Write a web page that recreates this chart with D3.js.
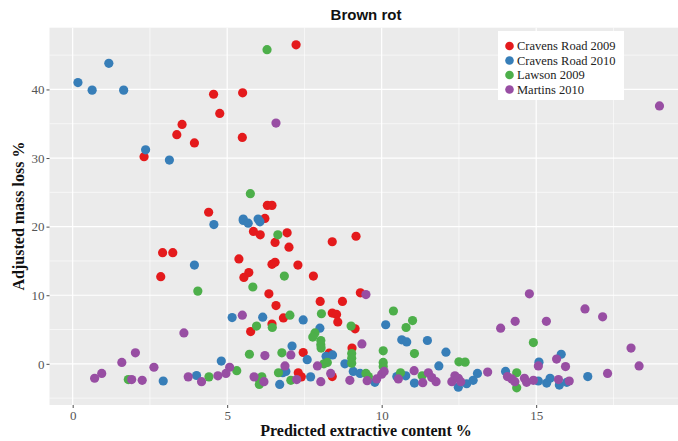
<!DOCTYPE html>
<html><head><meta charset="utf-8">
<script src="https://cdn.jsdelivr.net/npm/d3@7"></script>
<style>body{margin:0;background:#fff}svg{display:block}</style>
</head><body>
<svg id="c" width="678" height="441"></svg>
<script>
const seriesNames = ["Cravens Road 2009","Cravens Road 2010","Lawson 2009","Martins 2010"];
const seriesColors = ["#E41A1C","#377EB8","#4DAF4A","#984EA3"];
const xTicks = [0,5,10,15];
const yTicks = [0,10,20,30,40];

const cravens2009 = [[7.23,46.5],[4.56,39.3],[5.50,39.5],[4.76,36.5],[3.54,34.9],[3.37,33.4],[3.94,32.2],[5.49,33.0],[2.31,30.2],[4.40,22.1],[6.30,23.1],[6.45,23.1],[6.22,21.2],[5.85,19.3],[6.07,18.8],[6.94,19.1],[6.55,17.7],[7.0,17.0],[8.40,17.8],[9.17,18.6],[2.91,16.2],[3.24,16.2],[5.38,15.3],[6.45,14.5],[6.55,14.8],[7.29,14.4],[2.85,12.7],[5.70,13.3],[5.54,12.6],[7.79,12.8],[6.35,10.2],[9.31,10.35],[6.58,8.5],[8.01,9.1],[8.73,9.1],[8.40,7.4],[8.54,7.2],[8.58,6.1],[6.82,6.7],[5.76,4.7],[6.45,5.8],[9.14,5.1],[9.04,2.3],[7.46,1.65],[8.30,1.55],[7.30,-1.3],[7.40,-1.9],[8.40,-1.85]];
const cravens2010 = [[1.17,43.8],[0.17,41.0],[0.63,39.9],[1.65,39.9],[2.36,31.2],[3.13,29.7],[5.52,21.1],[6.0,21.1],[4.57,20.3],[5.52,20.9],[5.68,20.5],[6.06,20.7],[3.94,14.4],[5.16,6.75],[6.15,6.8],[7.46,6.4],[8.0,5.2],[10.13,5.7],[10.65,3.5],[10.81,3.2],[11.48,3.4],[12.08,1.7],[7.10,2.6],[7.59,0.6],[8.20,1.1],[8.41,1.3],[8.81,0.0],[4.81,0.4],[2.93,-2.5],[4.01,-1.7],[6.70,-3.0],[6.80,-1.3],[6.90,-1.1],[7.70,-1.9],[9.08,-1.1],[9.30,-1.4],[9.78,-2.7],[10.49,-1.85],[10.78,-1.75],[11.06,-2.8],[11.85,-0.3],[12.48,-3.4],[12.75,-2.9],[12.96,-2.4],[13.1,-1.4],[14.01,-1.1],[15.07,-2.5],[15.09,0.25],[15.34,-2.8],[15.45,-2.1],[15.81,1.4],[15.75,-3.1],[15.99,-2.7],[16.67,-1.85]];
const lawson2009 = [[6.29,45.8],[5.75,24.8],[6.64,18.8],[5.83,11.2],[6.85,12.8],[4.05,10.6],[5.95,5.5],[6.46,5.3],[7.03,7.1],[8.05,7.3],[7.84,4.5],[7.77,3.9],[8.03,3.4],[8.03,2.8],[8.04,2.3],[9.01,5.5],[10.38,7.7],[10.79,5.3],[11.0,6.3],[9.03,1.5],[9.03,0.8],[9.03,0.1],[10.05,1.9],[10.05,0.2],[10.05,-0.4],[11.06,1.5],[12.5,0.3],[12.7,0.25],[5.72,1.4],[6.77,1.6],[8.13,0.0],[8.24,0.2],[5.31,-1.0],[1.80,-2.3],[4.41,-1.9],[6.12,-1.9],[6.04,-2.3],[6.04,-3.0],[6.66,-1.3],[7.06,-2.4],[9.49,-1.4],[9.57,-1.85],[10.61,-1.3],[11.31,-1.75],[14.91,3.1],[14.37,-1.3],[14.37,-3.5]];
const martins2010 = [[6.58,35.1],[5.49,7.1],[9.49,10.1],[3.60,4.5],[2.03,1.6],[1.59,0.2],[2.63,-0.5],[6.22,1.2],[5.08,-0.5],[0.71,-2.1],[0.94,-1.4],[1.91,-2.3],[2.25,-2.4],[3.74,-1.9],[4.17,-2.6],[4.70,-1.75],[4.96,-1.4],[5.87,-1.9],[6.19,-2.6],[9.36,2.9],[7.06,1.3],[6.87,-0.3],[7.25,-2.3],[7.92,-0.3],[8.03,-2.6],[8.35,-1.4],[8.97,-2.4],[9.53,-2.45],[9.84,-2.2],[10.0,-1.5],[10.08,-1.1],[10.54,-2.2],[11.05,-1.0],[11.33,-2.75],[11.51,-1.3],[11.62,-2.0],[11.76,-2.6],[12.27,-2.6],[12.37,-1.75],[12.48,-2.1],[12.56,-2.6],[13.43,-1.2],[13.85,5.2],[14.32,6.2],[14.78,10.2],[15.33,6.2],[14.07,-1.85],[14.21,-2.2],[14.31,-2.6],[14.62,-2.1],[14.69,-2.7],[14.91,-2.4],[15.07,-0.3],[15.66,0.7],[15.95,-0.4],[15.72,-2.3],[16.07,-2.5],[17.31,-1.4],[16.58,8.0],[17.15,6.85],[18.07,2.3],[18.33,-0.3],[18.99,37.6]];
const allSeries = [cravens2009, cravens2010, lawson2009, martins2010];

const svg = d3.select("#c");
const L = 49.5, R = 684.5, T = 27.7, B = 405;
const x = d3.scaleLinear().domain([-0.75, 19.8]).range([L, R]);
const y = d3.scaleLinear().domain([-6, 49]).range([B, T]);

svg.append("rect").attr("x", L).attr("y", T).attr("width", R - L).attr("height", B - T).attr("fill", "#EBEBEB");

const g = svg.append("g");
const xMinor = [2.5, 7.5, 12.5, 17.5];
const yMinor = [-5, 5, 15, 25, 35, 45];
g.selectAll(".xm").data(xMinor).enter().append("line")
  .attr("x1", d => x(d)).attr("x2", d => x(d)).attr("y1", T).attr("y2", B)
  .attr("stroke", "#fff").attr("stroke-width", 0.6);
g.selectAll(".ym").data(yMinor).enter().append("line")
  .attr("x1", L).attr("x2", R).attr("y1", d => y(d)).attr("y2", d => y(d))
  .attr("stroke", "#fff").attr("stroke-width", 0.6);
g.selectAll(".xM").data(xTicks).enter().append("line")
  .attr("x1", d => x(d)).attr("x2", d => x(d)).attr("y1", T).attr("y2", B)
  .attr("stroke", "#fff").attr("stroke-width", 1.2);
g.selectAll(".yM").data(yTicks).enter().append("line")
  .attr("x1", L).attr("x2", R).attr("y1", d => y(d)).attr("y2", d => y(d))
  .attr("stroke", "#fff").attr("stroke-width", 1.2);

const xAxis = svg.append("g").attr("transform", `translate(0,${B})`)
  .call(d3.axisBottom(x).tickValues(xTicks).tickSize(3).tickPadding(3));
const yAxis = svg.append("g").attr("transform", `translate(${L},0)`)
  .call(d3.axisLeft(y).tickValues(yTicks).tickSize(3).tickPadding(2));
[xAxis, yAxis].forEach(a => {
  a.select(".domain").remove();
  a.selectAll(".tick line").attr("stroke", "#4D4D4D");
  a.selectAll(".tick text").attr("fill", "#555").style("font-family", "'Liberation Serif','Times New Roman',serif").style("font-size", "13px");
});

allSeries.forEach((s, i) => {
  svg.append("g").selectAll("circle").data(s).enter().append("circle")
    .attr("cx", d => x(d[0])).attr("cy", d => y(d[1])).attr("r", 4.6)
    .attr("fill", seriesColors[i]);
});

svg.append("text").attr("x", 366).attr("y", 20).attr("text-anchor", "middle")
  .style("font-family", "'Liberation Sans',Arial,sans-serif").style("font-weight", "bold").style("font-size", "15px")
  .attr("fill", "#111").text("Brown rot");
svg.append("text").attr("x", 366).attr("y", 436).attr("text-anchor", "middle")
  .style("font-family", "'Liberation Serif','Times New Roman',serif").style("font-weight", "bold").style("font-size", "16px")
  .attr("fill", "#111").text("Predicted extractive content %");
svg.append("text").attr("transform", "translate(24,216) rotate(-90)").attr("text-anchor", "middle")
  .style("font-family", "'Liberation Serif','Times New Roman',serif").style("font-weight", "bold").style("font-size", "16px")
  .attr("fill", "#111").text("Adjusted mass loss %");

const lg = svg.append("g");
lg.append("rect").attr("x", 498).attr("y", 31).attr("width", 126).attr("height", 69).attr("fill", "#fff");
seriesNames.forEach((n, i) => {
  const cy = 46 + i * 14.5;
  lg.append("circle").attr("cx", 509.5).attr("cy", cy).attr("r", 4.3).attr("fill", seriesColors[i]);
  lg.append("text").attr("x", 517).attr("y", cy + 4.3)
    .style("font-family", "'Liberation Serif','Times New Roman',serif").style("font-size", "12.5px")
    .attr("fill", "#222").text(n);
});
</script>
</body></html>
